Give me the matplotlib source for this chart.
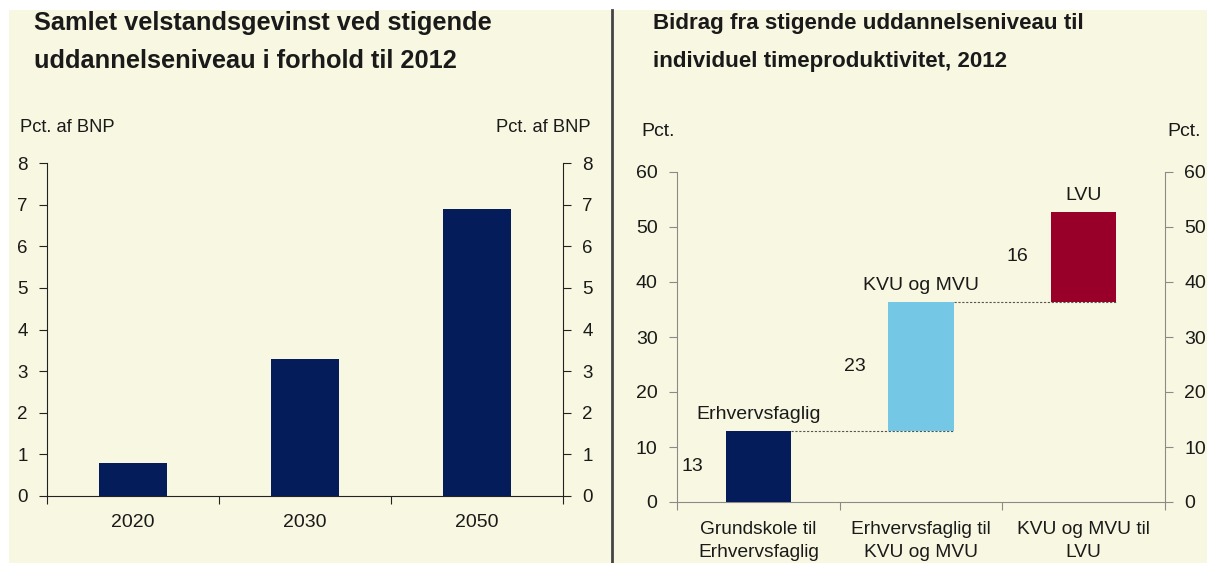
import matplotlib
matplotlib.use("Agg")
import matplotlib.pyplot as plt
from matplotlib.patches import Rectangle
from matplotlib.lines import Line2D

plt.rcParams['font.family'] = ['Liberation Sans', 'DejaVu Sans']

# ---- data ----
years = ["2020", "2030", "2050"]
gain = [0.8, 3.3, 6.9]

steps = ["Grundskole til\nErhvervsfaglig", "Erhvervsfaglig til\nKVU og MVU", "KVU og MVU til\nLVU"]
step_names = ["Erhvervsfaglig", "KVU og MVU", "LVU"]
contrib = [13.0, 23.4, 16.3]
contrib_labels = ["13", "23", "16"]
step_colors = ["#041C5A", "#74C8E6", "#980029"]

W, H = 1207, 563
BG = "#F8F7E1"
TXT = "#1A1A1A"

fig = plt.figure(figsize=(W / 100, H / 100), dpi=100)
fig.patch.set_facecolor("white")
fig.patches.append(Rectangle((9 / W, 0), 1 - 9 / W, (H - 10) / H, transform=fig.transFigure,
                             facecolor=BG, edgecolor="none", zorder=-10))
fig.lines.append(Line2D([612 / W, 612 / W], [0, (H - 10) / H], transform=fig.transFigure,
                        color="#444444", lw=2))

def px(x0, x1, ytop, ybot):
    return [x0 / W, (H - ybot) / H, (x1 - x0) / W, (ybot - ytop) / H]

# titles
fig.text(34 / W, 1 - 23 / H, "Samlet velstandsgevinst ved stigende", fontsize=18.3,
         fontweight="bold", color=TXT, va="center", ha="left")
fig.text(34 / W, 1 - 61 / H, "uddannelseniveau i forhold til 2012", fontsize=18.3,
         fontweight="bold", color=TXT, va="center", ha="left")
fig.text(653 / W, 1 - 23 / H, "Bidrag fra stigende uddannelseniveau til", fontsize=16.1,
         fontweight="bold", color=TXT, va="center", ha="left")
fig.text(653 / W, 1 - 61 / H, "individuel timeproduktivitet, 2012", fontsize=16.1,
         fontweight="bold", color=TXT, va="center", ha="left")

# ---- left chart ----
ax1 = fig.add_axes(px(47, 563, 163, 496))
ax1.set_facecolor("none")
xs = list(range(len(years)))
ax1.bar(xs, gain, width=0.4, color="#041C5A", zorder=3)
ax1.set_xlim(-0.5, len(years) - 0.5)
ax1.set_ylim(0, 8)
ax1.set_yticks(range(0, 9))
ax1.set_xticks([-0.5, 0.5, 1.5, 2.5])
ax1.set_xticklabels([])
ax1.set_xticks(xs, minor=True)
ax1.set_xticklabels(years, minor=True)
ax1.tick_params(axis="x", which="minor", length=0, pad=13, labelsize=14, labelcolor=TXT)
ax1.tick_params(axis="x", which="major", direction="out", length=6, color="#222222")
ax1.tick_params(axis="y", direction="out", length=6, left=True, right=True,
                labelleft=True, labelright=True, labelsize=13.5, labelcolor=TXT,
                color="#222222", pad=8)
ax1.spines["top"].set_visible(False)
for s in ["left", "right", "bottom"]:
    ax1.spines[s].set_color("#222222")
fig.text(20 / W, 1 - 128 / H, "Pct. af BNP", fontsize=13.2, color=TXT, va="center", ha="left")
fig.text(591 / W, 1 - 128 / H, "Pct. af BNP", fontsize=13.2, color=TXT, va="center", ha="right")

# ---- right chart ----
ax2 = fig.add_axes(px(677, 1165, 172, 502))
ax2.set_facecolor("none")
xs2 = list(range(len(steps)))
bottoms = [sum(contrib[:i]) for i in range(len(contrib))]
tops = [b + c for b, c in zip(bottoms, contrib)]
bw = 0.4
ax2.bar(xs2, contrib, bottom=bottoms, width=bw, color=step_colors, zorder=3)
for i in range(len(contrib) - 1):
    ax2.plot([xs2[i] + bw / 2, xs2[i + 1] + bw / 2], [tops[i], tops[i]],
             ls=(0, (2, 1.5)), lw=0.8, color="#555555", zorder=2)
for i in range(len(contrib)):
    ax2.text(xs2[i] - bw / 2 - 0.14, bottoms[i] + contrib[i] / 2, contrib_labels[i],
             ha="right", va="center", fontsize=14, color=TXT)
    ax2.text(xs2[i], tops[i] + 1.4, step_names[i], ha="center", va="bottom",
             fontsize=14, color=TXT)
ax2.set_xlim(-0.5, len(steps) - 0.5)
ax2.set_ylim(0, 60)
ax2.set_yticks(range(0, 61, 10))
ax2.set_xticks([-0.5, 0.5, 1.5, 2.5])
ax2.set_xticklabels([])
ax2.set_xticks(xs2, minor=True)
ax2.set_xticklabels(steps, minor=True, linespacing=1.45)
ax2.tick_params(axis="x", which="minor", length=0, pad=14, labelsize=13.8, labelcolor=TXT)
ax2.tick_params(axis="x", which="major", direction="out", length=6, color="#8A8A8A")
ax2.tick_params(axis="y", direction="out", length=6, left=True, right=True,
                labelleft=True, labelright=True, labelsize=14, labelcolor=TXT,
                color="#8A8A8A", pad=8)
ax2.spines["top"].set_visible(False)
for s in ["left", "right", "bottom"]:
    ax2.spines[s].set_color("#8A8A8A")
fig.text(641 / W, 1 - 132 / H, "Pct.", fontsize=14, color=TXT, va="center", ha="left")
fig.text(1201 / W, 1 - 132 / H, "Pct.", fontsize=14, color=TXT, va="center", ha="right")

fig.savefig("out.png", dpi=100, facecolor=fig.get_facecolor())
